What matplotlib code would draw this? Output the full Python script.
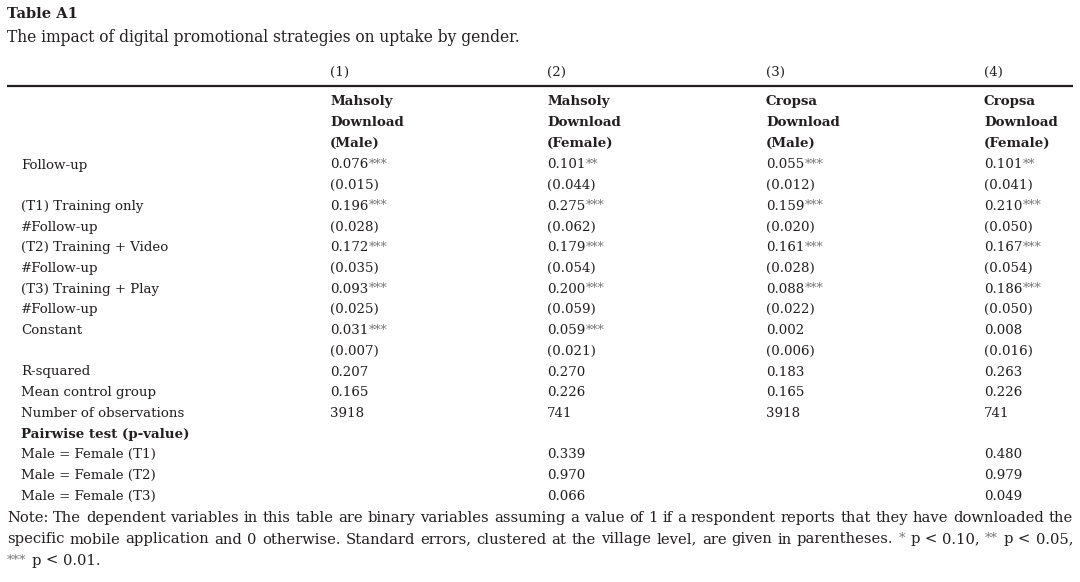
import matplotlib
matplotlib.use("Agg")
import matplotlib.pyplot as plt

title = "Table A1"
subtitle = "The impact of digital promotional strategies on uptake by gender."
col_numbers = ["(1)", "(2)", "(3)", "(4)"]
col_headers = [
    ["Mahsoly", "Download", "(Male)"],
    ["Mahsoly", "Download", "(Female)"],
    ["Cropsa", "Download", "(Male)"],
    ["Cropsa", "Download", "(Female)"],
]
row_labels = [
    "Follow-up", "", "(T1) Training only", "#Follow-up",
    "(T2) Training + Video", "#Follow-up", "(T3) Training + Play", "#Follow-up",
    "Constant", "", "R-squared", "Mean control group", "Number of observations",
]
col1 = ["0.076***", "(0.015)", "0.196***", "(0.028)", "0.172***", "(0.035)",
        "0.093***", "(0.025)", "0.031***", "(0.007)", "0.207", "0.165", "3918"]
col2 = ["0.101**", "(0.044)", "0.275***", "(0.062)", "0.179***", "(0.054)",
        "0.200***", "(0.059)", "0.059***", "(0.021)", "0.270", "0.226", "741"]
col3 = ["0.055***", "(0.012)", "0.159***", "(0.020)", "0.161***", "(0.028)",
        "0.088***", "(0.022)", "0.002", "(0.006)", "0.183", "0.165", "3918"]
col4 = ["0.101**", "(0.041)", "0.210***", "(0.050)", "0.167***", "(0.054)",
        "0.186***", "(0.050)", "0.008", "(0.016)", "0.263", "0.226", "741"]
pairwise_title = "Pairwise test (p-value)"
pairwise_labels = ["Male = Female (T1)", "Male = Female (T2)", "Male = Female (T3)"]
pairwise_col2 = ["0.339", "0.970", "0.066"]
pairwise_col4 = ["0.480", "0.979", "0.049"]
note_lines = [
    "Note: The dependent variables in this table are binary variables assuming a value of 1 if a respondent reports that they have downloaded the",
    "specific mobile application and 0 otherwise. Standard errors, clustered at the village level, are given in parentheses. * p < 0.10, ** p < 0.05,",
    "*** p < 0.01.",
]

W, H = 1080, 582
fig = plt.figure(figsize=(W / 100, H / 100), dpi=100)
ax = fig.add_axes([0, 0, 1, 1])
ax.set_xlim(0, W)
ax.set_ylim(H, 0)
ax.axis("off")
renderer = fig.canvas.get_renderer()

FONT = "DejaVu Serif"
TXT = "#231f20"
STAR = "#77787b"
fs = 9.65
col_x = [330, 547, 766, 984]
label_x = 21
row_h = 20.7

def t(x, y, s, size=fs, weight="normal", color=TXT):
    return ax.text(x, y, s, fontsize=size, fontweight=weight, family=FONT, color=color,
                   ha="left", va="center")

def width(txt):
    return txt.get_window_extent(renderer=renderer).width

def cell(x, y, s):
    core = s.rstrip("*")
    stars = s[len(core):]
    tt = t(x, y, core)
    if stars:
        t(x + width(tt) + 0.5, y - 0.5, stars, size=fs * 0.95, color=STAR)

t(7, 14, title, size=10.5, weight="bold")
t(7, 38, subtitle, size=11.2)

for x, s in zip(col_x, col_numbers):
    t(x, 72, s)
ax.plot([7, 1073], [86, 86], color=TXT, lw=1.6, solid_capstyle="butt")

for x, hdr in zip(col_x, col_headers):
    for i, s in enumerate(hdr):
        t(x, 102 + i * row_h, s, weight="bold")

y0 = 165
cols = [col1, col2, col3, col4]
for i, lab in enumerate(row_labels):
    y = y0 + i * row_h
    if lab:
        t(label_x, y, lab)
    for x, c in zip(col_x, cols):
        cell(x, y, c[i])

yp = y0 + len(row_labels) * row_h
t(label_x, yp, pairwise_title, weight="bold")
for j, lab in enumerate(pairwise_labels):
    y = yp + (j + 1) * row_h
    t(label_x, y, lab)
    cell(col_x[1], y, pairwise_col2[j])
    cell(col_x[3], y, pairwise_col4[j])

# note, justified like the reference (first two lines)
nfs = 10.6
left, right = 7, 1073
m1 = t(300, 300, "a a", size=nfs)
m2 = t(300, 300, "aa", size=nfs)
space_w = width(m1) - width(m2)
m1.remove()
m2.remove()
for k, s in enumerate(note_lines):
    y = 518 + k * 21.5
    words = s.split(" ")
    objs = []
    for w_ in words:
        star_word = w_.strip("*") == ""
        o = t(0, y - (0.5 if star_word else 0), w_, size=nfs * (0.9 if star_word else 1),
              color=STAR if star_word else TXT)
        objs.append(o)
    ws = [width(o) for o in objs]
    if k < len(note_lines) - 1:
        gap = (right - left - sum(ws)) / (len(words) - 1)
    else:
        gap = space_w
    x = left
    for o, w_ in zip(objs, ws):
        o.set_x(x)
        x += w_ + gap

fig.savefig("out.png", dpi=100, facecolor="white")
